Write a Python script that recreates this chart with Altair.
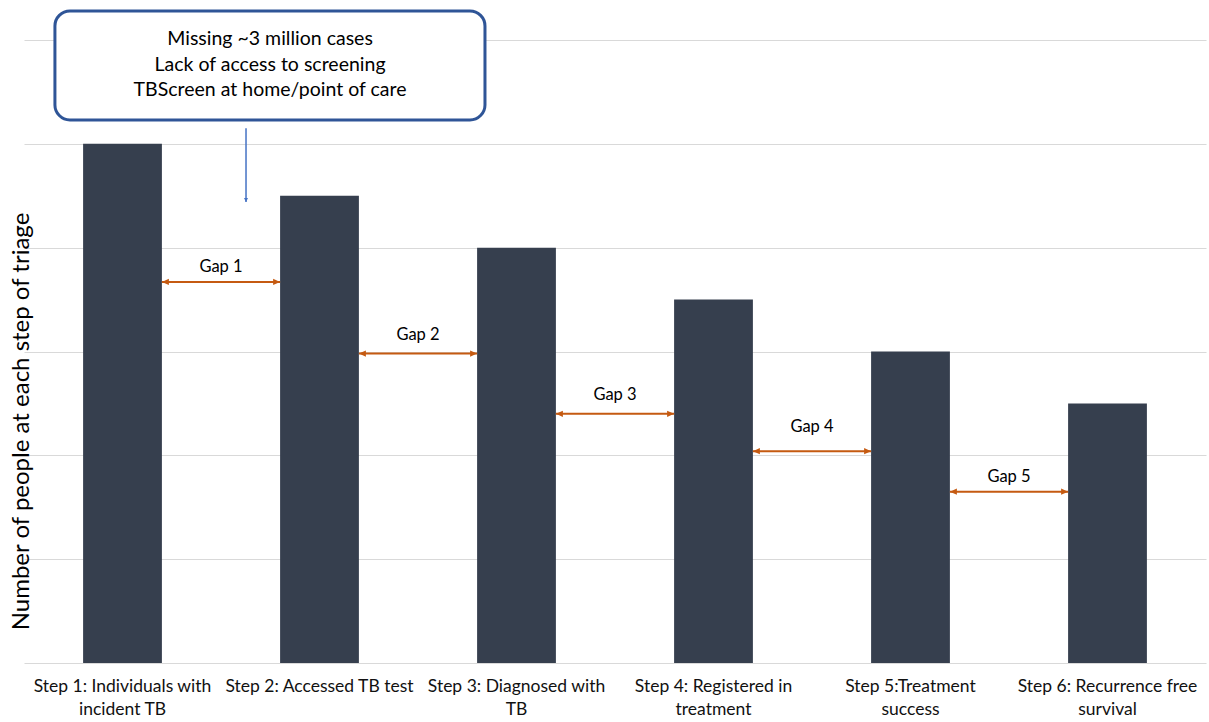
import altair as alt
import pandas as pd

# Cascade steps (axis labels split on "\n") and the number of people at each step
steps = [
    "Step 1: Individuals with\nincident TB",
    "Step 2: Accessed TB test",
    "Step 3: Diagnosed with\nTB",
    "Step 4: Registered in\ntreatment",
    "Step 5:Treatment\nsuccess",
    "Step 6: Recurrence free\nsurvival",
]
people = [5.0, 4.5, 4.0, 3.5, 3.0, 2.5]

# Gap arrows between consecutive steps (label positions in step units)
gap_labels = ["Gap 1", "Gap 2", "Gap 3", "Gap 4", "Gap 5"]
gap_levels = [3.67, 2.98, 2.40, 2.04, 1.65]
gap_label_levels = [3.81, 3.16, 2.58, 2.27, 1.79]
gap_label_pos = [1, 2, 3, 4, 5]

# Call-out box (x in step units, y in the value scale)
note_lines = [
    "Missing ~3 million cases",
    "Lack of access to screening",
    "TBScreen at home/point of care",
]
note_line_levels = [6.01, 5.76, 5.52]
note_center = 1.249
note_box = {"x": 0.157, "x2": 2.34, "y": 6.28, "y2": 5.23}
pointer = {"x": 1.127, "y": 5.15, "y2": 4.44}

FONT = "Lato"
BAR = "#363F4E"
GAP = "#C55A11"
BOX = "#2F5597"
POINTER = "#4472C4"

bars_df = pd.DataFrame({"step": steps, "people": people})
gaps_df = pd.DataFrame({
    "label": gap_labels,
    "from": steps[:-1],
    "to": steps[1:],
    "level": gap_levels,
    "label_level": gap_label_levels,
    "label_pos": gap_label_pos,
})
note_df = pd.DataFrame({"line": note_lines, "level": note_line_levels, "pos": [note_center] * 3})
box_df = pd.DataFrame([note_box])
pointer_df = pd.DataFrame([pointer])

xband = alt.Scale(domain=steps, paddingInner=0.6, paddingOuter=0.3)
yscale = alt.Scale(domain=[0, 6], nice=False)
xunit = alt.Scale(domain=[0, len(steps)], nice=False, zero=False)

y_axis = alt.Axis(
    values=[0, 1, 2, 3, 4, 5, 6], labels=False, ticks=False, domain=False,
    grid=True, gridColor="#D9D9D9", gridWidth=1,
    title="Number of people at each step of triage", titleFont=FONT,
    titleFontSize=24, titleFontWeight="normal", titleColor="#000000",
    titleX=9, titleY=381, titleBaseline="bottom", titleAngle=-90,
)
x_axis = alt.Axis(
    title=None, labelAngle=0, labelFont=FONT, labelFontSize=17.5,
    labelColor="#111111", labelPadding=14, labelLineHeight=23, labelLimit=400,
    ticks=False, domain=False, labelExpr="split(datum.value, '\\n')",
)

bars = alt.Chart(bars_df).mark_bar(color=BAR).encode(
    x=alt.X("step:N", scale=xband, axis=x_axis, sort=steps),
    y=alt.Y("people:Q", scale=yscale, axis=y_axis),
)

gap_line = alt.Chart(gaps_df).mark_rule(color=GAP, strokeWidth=2).encode(
    x=alt.X("from:N", scale=xband, bandPosition=1, sort=steps),
    x2=alt.X2("to:N", bandPosition=0),
    y=alt.Y("level:Q", scale=yscale),
)
head_right = alt.Chart(gaps_df).mark_point(
    shape="M0,0L-1,-0.45L-1,0.45Z", filled=True, size=196, color=GAP, opacity=1
).encode(
    x=alt.X("to:N", scale=xband, bandPosition=0, sort=steps),
    y=alt.Y("level:Q", scale=yscale),
)
head_left = alt.Chart(gaps_df).mark_point(
    shape="M0,0L1,-0.45L1,0.45Z", filled=True, size=196, color=GAP, opacity=1
).encode(
    x=alt.X("from:N", scale=xband, bandPosition=1, sort=steps),
    y=alt.Y("level:Q", scale=yscale),
)

gap_text = alt.Chart(gaps_df).mark_text(
    font=FONT, fontSize=16.5, color="#000000", baseline="middle"
).encode(
    x=alt.X("label_pos:Q", scale=xunit, axis=None),
    y=alt.Y("label_level:Q", scale=yscale),
    text="label:N",
)
box = alt.Chart(box_df).mark_rect(
    fill="white", stroke=BOX, strokeWidth=3, cornerRadius=15
).encode(
    x=alt.X("x:Q", scale=xunit, axis=None),
    x2="x2:Q",
    y=alt.Y("y:Q", scale=yscale),
    y2="y2:Q",
)
note_text = alt.Chart(note_df).mark_text(
    font=FONT, fontSize=19.5, color="#000000", baseline="middle"
).encode(
    x=alt.X("pos:Q", scale=xunit, axis=None),
    y=alt.Y("level:Q", scale=yscale),
    text="line:N",
)
pointer_line = alt.Chart(pointer_df).mark_rule(color=POINTER, strokeWidth=1.5).encode(
    x=alt.X("x:Q", scale=xunit, axis=None),
    y=alt.Y("y:Q", scale=yscale),
    y2="y2:Q",
)
pointer_head = alt.Chart(pointer_df).mark_point(
    shape="M0,0L-0.5,-1L0.5,-1Z", filled=True, size=64, color=POINTER, opacity=1
).encode(
    x=alt.X("x:Q", scale=xunit, axis=None),
    y=alt.Y("y2:Q", scale=yscale),
)

band_layers = alt.layer(bars, gap_line, head_right, head_left)
unit_layers = alt.layer(gap_text, box, note_text, pointer_line, pointer_head)

chart = alt.layer(band_layers, unit_layers).resolve_scale(x="independent").properties(
    width=1182,
    height=623,
    autosize=alt.AutoSizeParams(type="none"),
    padding={"left": 24, "top": 40, "right": 3, "bottom": 59},
).configure(background="white").configure_view(strokeWidth=0, stroke="transparent")

chart.save("out.html", embed_options={"renderer": "svg", "actions": False})
